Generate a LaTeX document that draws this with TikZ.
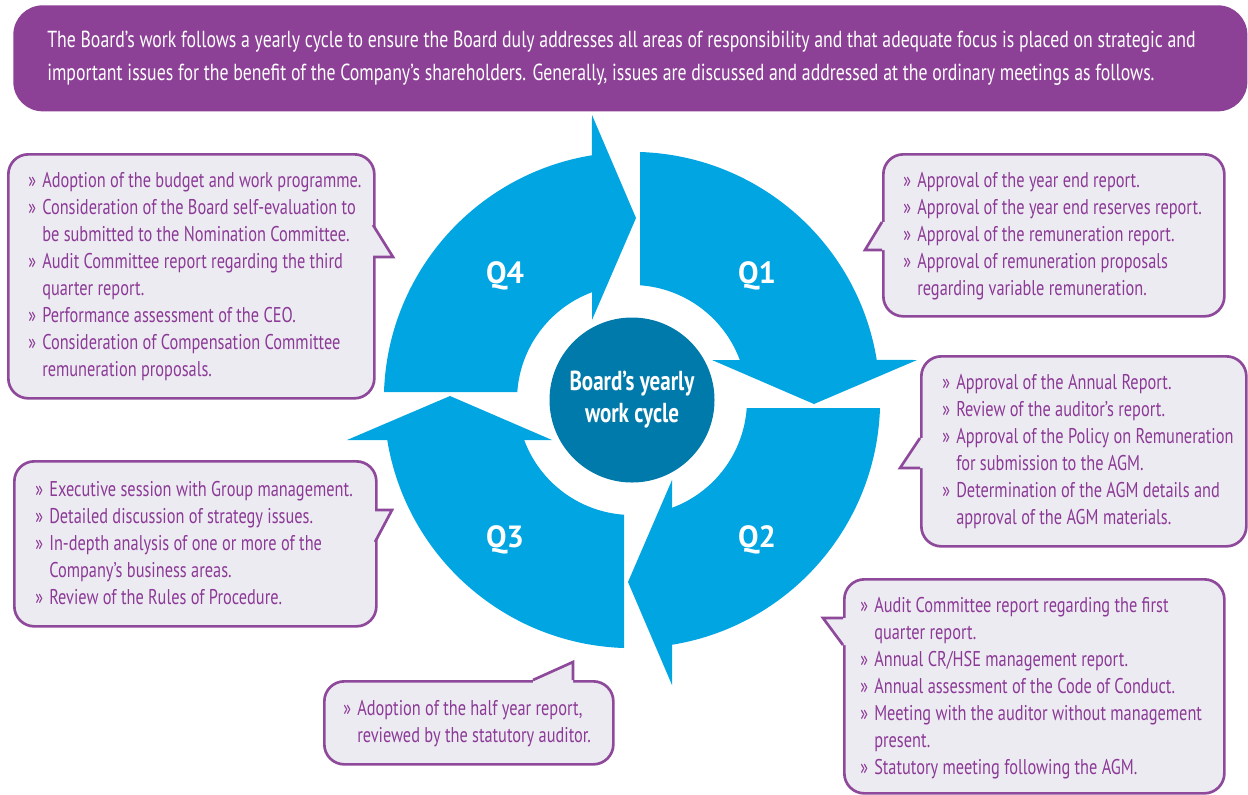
\documentclass[tikz,border=0pt]{standalone}
\usepackage{fontspec}
\setmainfont{PT Sans}[FakeStretch=0.766]
\newfontfamily\qfont{PT Sans}
\definecolor{bannerpurple}{RGB}{140,65,150}
\definecolor{callline}{RGB}{142,73,155}
\definecolor{callfill}{RGB}{237,235,242}
\definecolor{calltext}{RGB}{139,58,150}
\definecolor{cycleblue}{RGB}{0,165,226}
\definecolor{hubblue}{RGB}{0,122,170}
\tikzset{
	callbox/.style={draw=callline, fill=callfill, line width=2pt, rounded corners=15pt, inner sep=0pt, anchor=north west},
	calltext/.style={text=calltext, align=left, anchor=west, inner sep=0pt, font=\fontsize{16}{20.25}\selectfont},
	quarter/.style={text=white, font=\qfont\bfseries\fontsize{23}{28}\selectfont},
}
\newcommand{\bl}{\makebox[10.5pt][l]{»}}
\newcommand{\ind}{\hspace*{10.5pt}}
\newcommand{\tail}[4]{%
	\fill[callfill] ([shift={(#4)}]#1) -- (#1) -- (#2) -- (#3) -- ([shift={(#4)}]#3) -- cycle;
	\draw[callline, line width=2pt, line join=miter] (#1) -- (#2) -- (#3);}
\begin{document}
\begin{tikzpicture}[x=0.75pt, y=-0.75pt]
	\useasboundingbox (0,0) rectangle (1248,794);
	\node[callbox, draw=none, fill=bannerpurple, minimum width=925.5pt, minimum height=79.5pt, rounded corners=22pt] (intro) at (12,4) {};
	\node[calltext, text=white, font=\fontsize{17.4}{24.75}\selectfont] (introtext) at (47,58.5) {The Board’s work follows a yearly cycle to ensure the Board duly addresses all areas of responsibility and that adequate focus is placed on strategic and\\important issues for the benefit of the Company’s shareholders. Generally, issues are discussed and addressed at the ordinary meetings as follows.};

	\begin{scope}[shift={(632,400)}, x={(0.75pt,0pt)}, y={(0pt,0.75pt)}]
		\foreach \a in {0,-90,-180,-270}
			\fill[cycleblue, rotate=\a] (8,115) -- (8,248) arc[start angle=88.15, end angle=9.28, radius=248] -- (285,40) -- (182,-4) -- (80,40) -- (107.8,40) arc[start angle=20.36, end angle=86, radius=115] -- cycle;
	\end{scope}
	\node[circle, fill=hubblue, minimum size=123.75pt, inner sep=0pt, text=white, align=center, font=\bfseries\fontsize{20.6}{24}\selectfont] (hub) at (632,400) {Board’s yearly\\work cycle};
	\node[quarter] (q1) at (757,276) {Q1};
	\node[quarter] (q2) at (757,540) {Q2};
	\node[quarter] (q3) at (505,540) {Q3};
	\node[quarter] (q4) at (505,276) {Q4};

	\node[callbox, minimum width=274.5pt, minimum height=183pt] (box4) at (7,153) {};
	\tail{373,225}{393,257}{373,257}{-4,0}
	\node[calltext] (text4) at (28,276.5) {\bl Adoption of the budget and work programme.\\\bl Consideration of the Board self-evaluation to\\\ind be submitted to the Nomination Committee.\\\bl Audit Committee report regarding the third\\\ind quarter report.\\\bl Performance assessment of the CEO.\\\bl Consideration of Compensation Committee\\\ind remuneration proposals.};

	\node[callbox, minimum width=255.75pt, minimum height=121.5pt] (box1) at (882,153) {};
	\tail{882,222}{865,250}{882,250}{4,0}
	\node[calltext] (text1) at (903,236) {\bl Approval of the year end report.\\\bl Approval of the year end reserves report.\\\bl Approval of the remuneration report.\\\bl Approval of remuneration proposals\\\ind regarding variable remuneration.};

	\node[callbox, minimum width=243.75pt, minimum height=142.5pt] (box2a) at (920,355) {};
	\tail{920,438}{900,468}{920,468}{4,0}
	\node[calltext] (text2a) at (942,452) {\bl Approval of the Annual Report.\\\bl Review of the auditor’s report.\\\bl Approval of the Policy on Remuneration\\\ind for submission to the AGM.\\\bl Determination of the AGM details and\\\ind approval of the AGM materials.};

	\node[callbox, minimum width=285pt, minimum height=160.5pt] (box2b) at (843,578) {};
	\tail{843,618}{823,618}{843,645}{4,0}
	\node[calltext] (text2b) at (860,688) {\bl Audit Committee report regarding the first\\\ind quarter report.\\\bl Annual CR/HSE management report.\\\bl Annual assessment of the Code of Conduct.\\\bl Meeting with the auditor without management\\\ind present.\\\bl Statutory meeting following the AGM.};

	\node[callbox, minimum width=271.5pt, minimum height=123.75pt] (box3a) at (13,460) {};
	\tail{375,510}{392,510}{375,542}{-4,0}
	\node[calltext] (text3a) at (35,543.5) {\bl Executive session with Group management.\\\bl Detailed discussion of strategy issues.\\\bl In-depth analysis of one or more of the\\\ind Company’s business areas.\\\bl Review of the Rules of Procedure.};

	\node[callbox, minimum width=216.75pt, minimum height=62.25pt] (box3b) at (323,680) {};
	\tail{533,680}{573,662}{573,680}{0,4}
	\node[calltext] (text3b) at (343,723.5) {\bl Adoption of the half year report,\\\ind reviewed by the statutory auditor.};
\end{tikzpicture}
\end{document}
